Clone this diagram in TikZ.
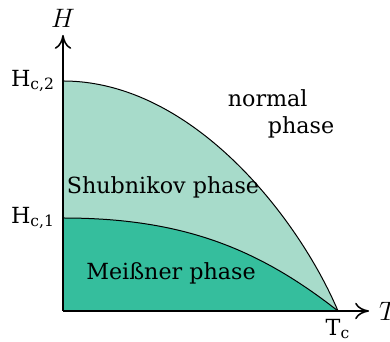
\documentclass[tikz,border=0pt]{standalone}
\usepackage{fontspec}
\setmainfont{DejaVu Serif}
\usetikzlibrary{arrows.meta}
\definecolor{shubgreen}{RGB}{167,219,202}
\definecolor{meissgreen}{RGB}{53,190,157}
\tikzset{
  axis/.style={-{To[length=2.2mm,width=2.6mm]}, line width=0.7pt},
  phaseline/.style={line width=0.45pt},
  phaselabel/.style={font=\normalsize},
}

\begin{document}
\begin{tikzpicture}[x=0.45pt, y=0.45pt]
    \useasboundingbox (-63,-31) rectangle (327,311);
    % points on the axes
    \coordinate (o) at (0,0);
    \coordinate (hc2) at (0,230);
    \coordinate (hc1) at (0,93);
    \coordinate (tc) at (275,0);
    \coordinate (ytip) at (0,276);
    \coordinate (xtip) at (306,0);
    % phase regions
    \fill[shubgreen] (o) -- (hc2) .. controls (130,230) and (236,92) .. (tc) -- cycle;
    \fill[meissgreen] (o) -- (hc1) .. controls (120,93) and (196,62) .. (tc) -- cycle;
    \draw[phaseline] (hc2) .. controls (130,230) and (236,92) .. (tc);
    \draw[phaseline] (hc1) .. controls (120,93) and (196,62) .. (tc);
    % axes
    \draw[axis] (o) -- (ytip);
    \draw[axis] (o) -- (xtip);
    \node[above] (hlab) at (ytip) {\large$H$};
    \node[right, xshift=1pt] (tlab) at (xtip) {\large$T$};
    \node[left] (hc2lab) at (hc2) {H\textsubscript{c,2}};
    \node[left] (hc1lab) at (hc1) {H\textsubscript{c,1}};
    \node[below] (tclab) at (tc) {T\textsubscript{c}};
    \node[phaselabel] (shub) at (100,124) {Shubnikov phase};
    \node[phaselabel] (meiss) at (108,38) {Meißner phase};
    \node[phaselabel, anchor=west, align=left] (normal) at (157,197) {normal\\\hspace*{1.8em}phase};
  \end{tikzpicture}
\end{document}
